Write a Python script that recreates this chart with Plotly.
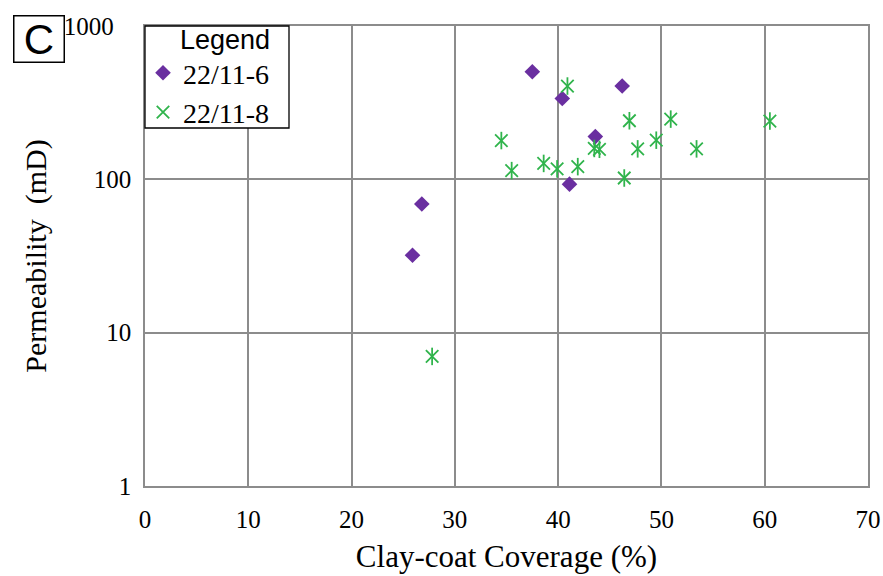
import plotly.graph_objects as go

# Data
well6_name = "22/11-6"
well6_x = [37.5, 40.4, 46.2, 43.6, 41.1, 26.8, 25.9]
well6_y = [503, 337, 406, 190, 93, 69, 32]

well8_name = "22/11-8"
well8_x = [40.9, 34.5, 35.5, 38.6, 39.9, 41.9, 43.5, 44.0, 46.4, 46.9, 47.7, 49.5, 50.9, 53.4, 60.5, 27.8]
well8_y = [406, 179, 114, 127, 117, 121, 159, 157, 102, 241, 158, 180, 247, 158, 240, 7.0]

x_ticks = [0, 10, 20, 30, 40, 50, 60, 70]
y_ticks = [1, 10, 100, 1000]
y_ticktext = ["1", "10", "100", "1000\u2002\u2009"]

purple = "#6A2FA0"
green = "#30B44C"
grid = "#8C8C8C"
serif = "Liberation Serif"
sans = "Liberation Sans"

# plot-area geometry in pixels (for converting layout positions)
W, H = 883, 576
ML, MR, MT, MB = 145, 15, 26, 90
PW, PH = W - ML - MR, H - MT - MB


def px_x(p):
    return (p - ML) / PW


def px_y(p):
    return (H - MB - p) / PH


fig = go.Figure()
fig.add_trace(go.Scatter(
    x=well6_x, y=well6_y, mode="markers", name=well6_name,
    marker=dict(symbol="diamond", size=12, color=purple, line=dict(width=0)),
))
fig.add_trace(go.Scatter(
    x=well8_x, y=well8_y, mode="markers", name=well8_name,
    marker=dict(symbol="x-thin-open", size=12.5, color=green, line=dict(width=1.8, color=green)),
))
fig.add_trace(go.Scatter(
    x=well8_x, y=well8_y, mode="markers", name=well8_name, showlegend=False,
    marker=dict(symbol="line-ns-open", size=12.5, color=green, line=dict(width=1.8, color=green)),
))

fig.update_layout(
    width=W, height=H,
    margin=dict(l=ML, r=MR, t=MT, b=MB),
    paper_bgcolor="white", plot_bgcolor="white",
    font=dict(family=serif, color="black"),
    showlegend=True,
    legend=dict(
        x=px_x(143), y=px_y(48), xanchor="left", yanchor="top",
        bgcolor="rgba(0,0,0,0)", borderwidth=0,
        font=dict(family=serif, size=28, color="black"),
        itemwidth=30, tracegroupgap=0,
    ),
    shapes=[dict(
        type="rect", xref="paper", yref="paper",
        x0=px_x(145), x1=px_x(289), y0=px_y(128), y1=px_y(26),
        fillcolor="white", line=dict(color="black", width=1.3), layer="above",
    )],
    xaxis=dict(
        range=[0, 70], tickvals=x_ticks, showgrid=True, gridcolor=grid, gridwidth=1.5,
        showline=True, linecolor=grid, linewidth=1.5, mirror=True, zeroline=False,
        ticks="", ticklabelstandoff=10, automargin=False,
        tickfont=dict(family=serif, size=25, color="black"),
        title=dict(text="Clay-coat Coverage (%)", font=dict(family=serif, size=31, color="black"), standoff=14),
    ),
    yaxis=dict(
        type="log", range=[0, 3], tickvals=y_ticks, ticktext=y_ticktext,
        showgrid=True, gridcolor=grid, gridwidth=1.5,
        showline=True, linecolor=grid, linewidth=1.5, mirror=True, zeroline=False,
        ticks="", ticklabelstandoff=7, automargin=False,
        tickfont=dict(family=serif, size=25, color="black"),
        title=dict(text="Permeability  (mD)", font=dict(family=serif, size=30, color="black"), standoff=8),
    ),
    annotations=[
        dict(
            text="C", xref="paper", yref="paper", x=px_x(39), y=px_y(38.5),
            xanchor="center", yanchor="middle", showarrow=False,
            font=dict(family=sans, size=42, color="black"),
            bordercolor="black", borderwidth=1.5, borderpad=0, width=49, height=45, bgcolor="white",
        ),
        dict(
            text="Legend", xref="paper", yref="paper", x=px_x(225), y=px_y(40),
            xanchor="center", yanchor="middle", showarrow=False,
            font=dict(family=sans, size=27, color="black"),
        ),
    ],
)

fig.write_html("out.html")
